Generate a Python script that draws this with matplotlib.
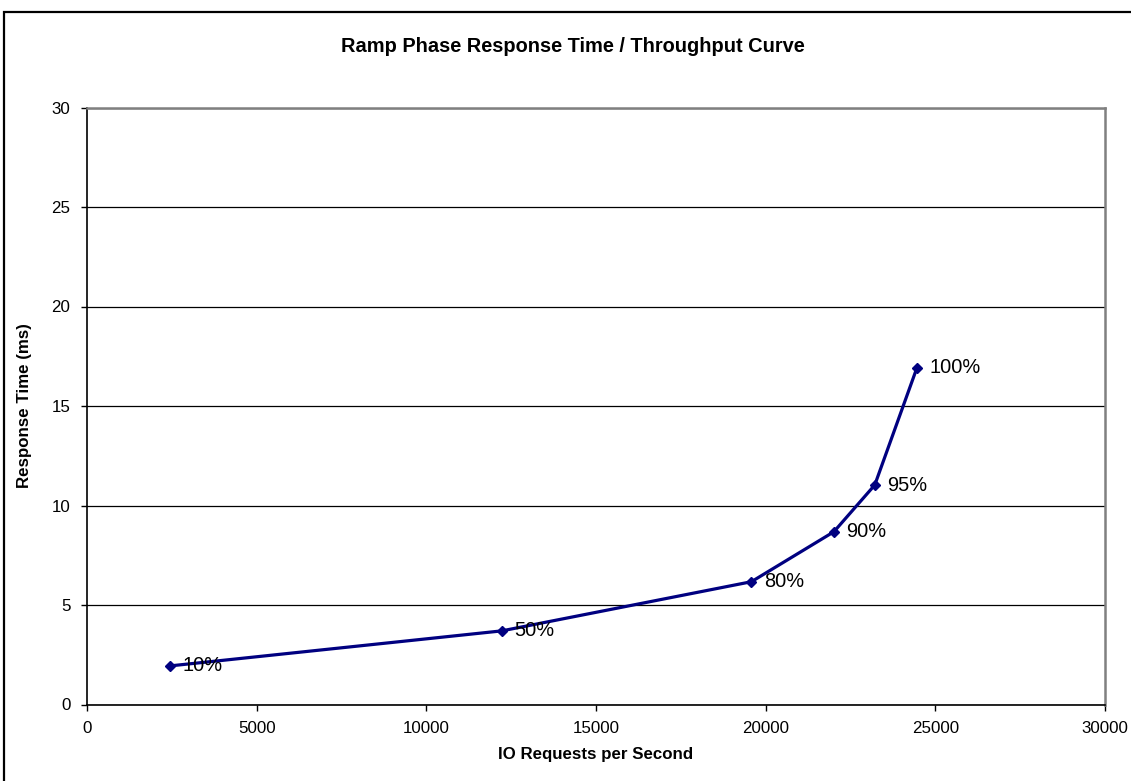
import matplotlib
matplotlib.use("Agg")
import matplotlib.pyplot as plt
from matplotlib.patches import Rectangle

plt.rcParams['font.family'] = ['Liberation Sans', 'DejaVu Sans']

# ramp phase data
iops = [2450, 12225, 19580, 22010, 23215, 24460]
resp_ms = [1.94, 3.70, 6.17, 8.68, 11.03, 16.93]
load_labels = ["10%", "50%", "80%", "90%", "95%", "100%"]

x_ticks = [0, 5000, 10000, 15000, 20000, 25000, 30000]
y_ticks = [0, 5, 10, 15, 20, 25, 30]

W, H = 1131, 781
fig = plt.figure(figsize=(W / 100, H / 100), dpi=100)

# outer chart border (only top/left visible in the image)
fig.patches.append(Rectangle((4 / W, -0.05), 1.1, (H - 12) / H + 0.05,
                             transform=fig.transFigure, fill=False,
                             edgecolor="black", linewidth=1.6))

ax = fig.add_axes([87 / W, (H - 704.5) / H, (1105 - 87) / W, (704.5 - 107.5) / H])

ax.plot(iops, resp_ms, color="#000080", linewidth=2.3, marker="D",
        markersize=5.5, zorder=3)
for x, y, lab in zip(iops, resp_ms, load_labels):
    ax.annotate(lab, (x, y), xytext=(9, 0), textcoords="offset points",
                ha="left", va="center", fontsize=14.4, color="black", zorder=4)

ax.set_xlim(0, 30000)
ax.set_ylim(0, 30)
ax.set_xticks(x_ticks)
ax.set_yticks(y_ticks)
ax.tick_params(axis="both", direction="out", length=4, width=1, labelsize=12.2, pad=8)
ax.yaxis.grid(True, color="black", linewidth=0.9)
ax.set_axisbelow(True)

for s in ["top", "right"]:
    ax.spines[s].set_color("#808080")
    ax.spines[s].set_linewidth(1.8)
for s in ["left", "bottom"]:
    ax.spines[s].set_color("black")
    ax.spines[s].set_linewidth(1.2)

ax.set_xlabel("IO Requests per Second", fontsize=12.2, fontweight="bold", labelpad=8)
ax.set_ylabel("Response Time (ms)", fontsize=12.2, fontweight="bold", labelpad=14)

fig.text(573 / W, (H - 47) / H, "Ramp Phase Response Time / Throughput Curve",
         ha="center", va="center", fontsize=14.4, fontweight="bold")

fig.savefig("out.png", dpi=100)
